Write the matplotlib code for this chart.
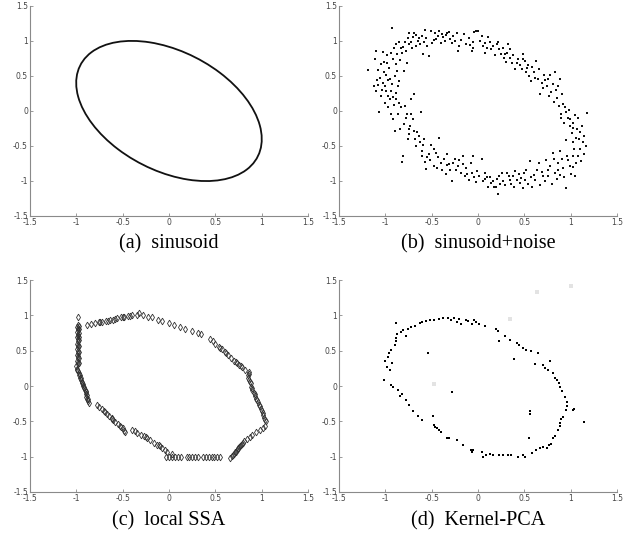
import matplotlib
matplotlib.use("Agg")
import matplotlib.pyplot as plt
from matplotlib.patches import Ellipse
import numpy as np

# 1. Data

# (a) clean sinusoid pair -> tilted ellipse
ELLIPSE_CENTER = (0.0, 0.0)
ELLIPSE_WIDTH = 2.37
ELLIPSE_HEIGHT = 1.55
ELLIPSE_ANGLE = -45

# (b) sinusoid + noise (x, y)
NOISY_POINTS = [
    (-1.19, 0.59), (-1.10, 0.85), (-1.11, 0.74), (-1.03, 0.84), (-0.93, 1.18), (-0.94, 0.83),
    (-0.89, 0.96), (-0.85, 0.98), (-0.83, 0.90), (-0.82, 0.83), (-0.79, 0.98), (-0.76, 1.04),
    (-0.74, 1.11), (-0.72, 0.99), (-0.70, 1.05), (-0.69, 1.12), (-0.67, 0.93), (-0.65, 1.00),
    (-0.61, 1.07), (-0.57, 1.15), (-0.56, 1.04), (-0.53, 0.79), (-0.51, 1.14), (-0.47, 1.02),
    (-0.43, 1.07), (-0.42, 1.14), (-0.38, 1.05), (-0.36, 1.00), (-0.33, 1.11), (-0.31, 1.13),
    (-0.30, 1.03), (-0.27, 1.07), (-0.23, 1.11), (-0.22, 0.86), (-0.20, 0.93), (-0.15, 1.10),
    (-0.13, 0.95), (-0.07, 0.86), (-0.05, 0.99), (-0.04, 1.13), (-0.02, 1.14), (-0.05, 0.90),
    (0.02, 1.00), (0.05, 0.93), (0.07, 0.83), (0.11, 1.05), (0.13, 0.99), (0.16, 0.93),
    (0.18, 0.80), (0.20, 0.95), (0.23, 0.88), (0.25, 0.81), (0.28, 0.75), (0.31, 0.83),
    (0.32, 0.95), (0.34, 0.89), (0.37, 0.69), (0.40, 0.60), (0.43, 0.74), (0.45, 0.65),
    (0.49, 0.82), (0.51, 0.71), (0.52, 0.56), (0.55, 0.50), (0.57, 0.43), (0.60, 0.56),
    (0.63, 0.71), (0.65, 0.45), (0.67, 0.24), (0.71, 0.52), (0.74, 0.36), (0.78, 0.52),
    (0.79, 0.27), (0.81, 0.38), (0.83, 0.56), (0.85, 0.19), (0.87, 0.07), (0.89, -0.05),
    (0.91, 0.24), (0.93, -0.17), (0.95, -0.02), (0.97, -0.10), (0.99, -0.21), (1.01, -0.31),
    (1.03, -0.17), (1.05, -0.06), (1.07, -0.26), (1.09, -0.40), (1.12, -0.21), (1.14, -0.36),
    (1.18, -0.03), (1.16, -0.50), (1.14, -0.62), (1.10, -0.55), (1.06, -0.74), (1.05, -0.93),
    (1.02, -0.64), (0.99, -0.79), (0.96, -0.64), (0.95, -1.10), (0.92, -0.81), (0.88, -0.57),
    (0.86, -0.74), (0.83, -0.88), (0.81, -0.60), (0.78, -0.79), (0.76, -0.93), (0.72, -1.00),
    (0.69, -0.87), (0.66, -0.74), (0.62, -0.98), (0.60, -0.91), (0.56, -0.72), (0.54, -1.05),
    (0.51, -0.98), (0.48, -1.10), (0.45, -1.03), (0.42, -0.98), (0.40, -0.86), (0.36, -1.05),
    (0.34, -0.98), (0.31, -0.88), (0.27, -1.00), (0.23, -0.93), (0.22, -1.19), (0.19, -1.08),
    (0.16, -1.00), (0.13, -0.95), (0.11, -1.08), (0.08, -0.89), (0.05, -1.00), (0.04, -0.68),
    (0.01, -0.93), (-0.02, -1.02), (-0.05, -0.64), (-0.07, -0.88), (-0.10, -0.98), (-0.13, -0.81),
    (-0.16, -0.64), (-0.18, -0.88), (-0.22, -0.79), (-0.25, -0.68), (-0.28, -1.00), (-0.31, -0.76),
    (-0.35, -0.90), (-0.37, -0.68), (-0.40, -0.74), (-0.42, -0.38), (-0.45, -0.60), (-0.48, -0.79),
    (-0.51, -0.49), (-0.53, -0.62), (-0.56, -0.83), (-0.57, -0.73), (-0.58, -0.40), (-0.60, -0.57),
    (-0.62, -0.02), (-0.64, -0.36), (-0.67, -0.50), (-0.69, -0.29), (-0.70, -0.12), (-0.73, -0.21),
    (-0.76, -0.40), (-0.77, -0.05), (-0.79, 0.07), (-0.81, -0.64), (-0.82, -0.73), (-0.84, -0.26),
    (-0.86, -0.05), (-0.88, 0.17), (-0.90, -0.29), (-0.92, -0.12), (-0.94, -0.05), (-0.97, 0.21),
    (-0.99, 0.29), (-1.03, 0.40), (-1.06, 0.47), (-1.07, -0.02), (-1.10, 0.29), (-1.12, 0.35),
    (-1.08, 0.59), (-1.05, 0.67), (-0.99, 0.52), (-0.96, 0.62), (-0.92, 0.74), (-0.88, 0.67),
    (-0.85, 0.43), (-0.80, 0.57), (-0.77, 0.69), (-0.72, 0.17), (-0.69, 0.24), (-0.95, 0.17),
    (-0.90, 0.50), (-1.04, 0.30), (-1.00, 0.12), (-0.97, 0.05), (-0.93, 0.38), (-0.87, 0.82),
    (-0.84, 0.73), (-0.78, 0.86), (-0.71, 0.90), (-0.63, 0.96), (-0.55, 0.93), (-0.46, 1.11),
    (-0.40, 0.97), (-0.25, 1.00), (-0.10, 1.04), (0.08, 0.97), (0.14, 0.88), (0.27, 0.90),
    (0.38, 0.80), (0.47, 0.60), (0.58, 0.63), (0.69, 0.40), (0.76, 0.45), (0.84, 0.30),
    (0.92, 0.10), (0.98, 0.02), (1.02, -0.45), (1.08, -0.10), (1.11, -0.72), (1.00, -0.90),
    (0.93, -0.95), (0.85, -0.97), (0.80, -1.05), (0.67, -1.06), (0.58, -1.08), (0.50, -0.88),
    (0.38, -0.93), (0.29, -1.06), (0.20, -0.97), (0.10, -0.95), (-0.04, -0.95), (-0.14, -0.93),
    (-0.20, -0.70), (-0.33, -0.62), (-0.44, -0.82), (-0.52, -0.70), (-0.60, -0.65), (-0.66, -0.30),
    (-0.74, -0.33), (-0.80, -0.18), (-0.83, 0.05), (-0.89, 0.26), (-0.97, 0.44), (-1.01, 0.70),
    (-0.98, 0.80), (-0.91, 0.90), (-0.67, 1.08), (-0.59, 0.82), (-0.35, 1.09), (0.00, 1.14),
    (0.30, 0.70), (0.54, 0.66), (0.72, 0.44), (0.88, 0.45), (0.95, -0.42), (1.04, -0.55),
    (0.86, -0.85), (0.70, -0.93), (0.46, -0.96), (0.17, -1.08), (-0.08, -0.74), (-0.30, -0.84),
    (-1.09, 0.44), (-1.02, 0.56), (-0.98, 0.68), (-0.94, 0.28), (-0.91, 0.09), (-0.86, 0.35),
    (-0.81, 0.92), (-0.75, 0.95), (-0.64, 1.04), (-0.58, 0.99), (-0.50, 0.97), (-0.45, 1.03),
    (-0.39, 1.10), (-0.28, 0.97), (-0.18, 1.02), (-0.09, 0.94), (0.04, 1.07), (0.10, 0.90),
    (0.22, 0.98), (0.29, 0.82), (0.35, 0.75), (0.42, 0.68), (0.48, 0.74), (0.53, 0.61),
    (0.61, 0.47), (0.66, 0.60), (0.70, 0.33), (0.77, 0.22), (0.82, 0.13), (0.86, 0.35),
    (0.90, -0.10), (0.94, 0.05), (0.99, -0.12), (1.02, -0.24), (1.06, -0.38), (1.10, -0.30),
    (1.13, -0.45), (1.08, -0.65), (1.03, -0.80), (0.97, -0.70), (0.91, -0.68), (0.88, -0.92),
    (0.82, -0.68), (0.75, -0.84), (0.73, -0.70), (0.64, -0.84), (0.57, -0.95), (0.52, -0.84),
    (0.44, -0.90), (0.39, -1.08), (0.33, -0.93), (0.26, -0.88), (0.24, -1.04), (0.14, -1.03),
    (0.07, -0.97), (-0.01, -0.86), (-0.12, -0.90), (-0.16, -0.76), (-0.24, -0.85), (-0.27, -0.74),
    (-0.34, -0.77), (-0.39, -0.85), (-0.43, -0.66), (-0.47, -0.55), (-0.55, -0.66), (-0.59, -0.48),
    (-0.63, -0.44), (-0.68, -0.40), (-0.72, -0.05), (-0.75, -0.26), (-0.78, -0.10), (-0.85, 0.12),
    (-0.92, 0.20), (-1.05, 0.22), (-1.08, 0.37), (-1.00, 0.36), (-0.95, 0.45), (-0.87, 0.57),
]

# (c) local SSA reconstruction (x, y)
SSA_POINTS = [
    (-0.98, 0.97), (-0.98, 0.86), (-0.99, 0.84), (-0.98, 0.82), (-0.98, 0.79), (-0.99, 0.77),
    (-0.98, 0.74), (-0.98, 0.71), (-0.99, 0.69), (-0.98, 0.66), (-0.98, 0.63), (-0.99, 0.60),
    (-0.98, 0.58), (-0.98, 0.55), (-0.99, 0.52), (-0.98, 0.50), (-0.98, 0.47), (-0.99, 0.44),
    (-0.98, 0.42), (-0.98, 0.39), (-0.99, 0.36), (-0.98, 0.34), (-0.98, 0.31),
    (-0.97, 0.85), (-0.97, 0.80), (-0.97, 0.75), (-0.97, 0.70), (-0.97, 0.65), (-0.97, 0.56),
    (-0.97, 0.48), (-0.97, 0.40), (-0.97, 0.33),
    (-1.00, 0.28), (-0.99, 0.24), (-0.98, 0.21), (-0.97, 0.18), (-0.96, 0.15), (-0.96, 0.12),
    (-0.95, 0.09), (-0.94, 0.06), (-0.93, 0.03), (-0.93, 0.00), (-0.92, -0.03), (-0.91, -0.06),
    (-0.90, -0.09), (-0.89, -0.12), (-0.89, -0.15), (-0.88, -0.18), (-0.87, -0.21), (-0.86, -0.24),
    (-0.99, 0.22), (-0.97, 0.16), (-0.95, 0.11), (-0.94, 0.04), (-0.92, -0.01), (-0.90, -0.07),
    (-0.88, -0.13), (-0.87, -0.19),
    (-0.78, -0.27), (-0.75, -0.30), (-0.72, -0.33), (-0.70, -0.36), (-0.67, -0.40), (-0.65, -0.42),
    (-0.62, -0.45), (-0.60, -0.48), (-0.58, -0.51), (-0.55, -0.54), (-0.53, -0.57), (-0.50, -0.60),
    (-0.48, -0.63), (-0.47, -0.65), (-0.69, -0.37), (-0.61, -0.46), (-0.52, -0.58),
    (-0.40, -0.62), (-0.37, -0.64), (-0.34, -0.66), (-0.30, -0.69), (-0.27, -0.71), (-0.24, -0.74),
    (-0.20, -0.77), (-0.16, -0.80), (-0.13, -0.83), (-0.10, -0.85), (-0.07, -0.88), (-0.04, -0.91),
    (-0.02, -0.93), (0.03, -0.96), (-0.25, -0.72), (-0.11, -0.84),
    (-0.03, -1.00), (0.00, -1.00), (0.03, -1.00), (0.06, -1.00), (0.10, -1.00), (0.13, -1.00),
    (0.19, -1.00), (0.22, -1.00), (0.25, -1.00), (0.28, -1.00), (0.31, -1.00), (0.37, -1.00),
    (0.40, -1.00), (0.43, -1.00), (0.46, -1.00), (0.49, -1.00), (0.52, -1.00), (0.55, -1.00),
    (0.66, -1.02), (0.68, -0.99), (0.70, -0.96), (0.72, -0.94), (0.73, -0.91), (0.75, -0.88),
    (0.77, -0.85), (0.79, -0.82), (0.81, -0.78), (0.84, -0.75), (0.87, -0.72), (0.90, -0.69),
    (0.94, -0.65), (0.98, -0.62), (1.01, -0.59), (1.04, -0.56),
    (0.69, -0.97), (0.71, -0.93), (0.74, -0.89), (0.76, -0.86), (0.78, -0.83), (0.80, -0.80),
    (1.05, -0.50), (1.03, -0.45), (1.02, -0.41), (1.00, -0.36), (0.99, -0.32), (0.97, -0.27),
    (0.96, -0.23), (0.94, -0.18), (0.93, -0.14), (0.92, -0.10), (0.90, -0.05), (0.89, -0.01),
    (0.88, 0.04), (0.86, 0.08), (0.85, 0.12), (0.86, 0.17),
    (1.04, -0.48), (1.01, -0.38), (0.98, -0.29), (0.95, -0.20), (0.93, -0.12), (0.90, -0.03),
    (0.87, 0.06), (0.85, 0.15),
    (0.86, 0.20), (0.82, 0.23), (0.79, 0.27), (0.76, 0.30), (0.73, 0.33), (0.70, 0.36),
    (0.67, 0.40), (0.64, 0.44), (0.60, 0.48), (0.57, 0.52), (0.54, 0.55), (0.50, 0.60),
    (0.47, 0.64), (0.44, 0.67), (0.78, 0.28), (0.72, 0.34), (0.62, 0.46), (0.55, 0.54),
    (0.35, 0.73), (0.31, 0.75), (0.25, 0.78), (0.17, 0.81), (0.12, 0.84), (0.05, 0.87),
    (0.00, 0.89), (-0.07, 0.92), (-0.12, 0.94), (-0.18, 0.97), (-0.23, 0.98), (-0.28, 1.01),
    (-0.32, 1.03),
    (-0.35, 1.01), (-0.40, 1.00), (-0.44, 0.99), (-0.48, 0.98), (-0.52, 0.97), (-0.56, 0.96),
    (-0.60, 0.94), (-0.64, 0.93), (-0.68, 0.92), (-0.72, 0.91), (-0.76, 0.90), (-0.80, 0.89),
    (-0.84, 0.88), (-0.88, 0.86), (-0.42, 0.99), (-0.50, 0.97), (-0.58, 0.95), (-0.66, 0.92),
    (-0.74, 0.90),
]

# (d) Kernel-PCA reconstruction (x, y)
KPCA_POINTS = [
    (-1.01, 0.09), (-1.00, 0.35), (-0.98, 0.27), (-0.97, 0.41), (-0.96, 0.47), (-0.95, 0.22),
    (-0.94, 0.51), (-0.93, 0.33), (-0.94, 0.01), (-0.92, -0.02), (-0.90, 0.58), (-0.89, 0.63),
    (-0.88, 0.68), (-0.87, 0.73), (-0.86, -0.06), (-0.88, 0.89), (-0.84, -0.14), (-0.82, -0.11),
    (-0.83, 0.77), (-0.81, 0.79), (-0.78, -0.20), (-0.76, 0.81), (-0.74, -0.27), (-0.72, 0.83),
    (-0.70, -0.36), (-0.68, 0.85), (-0.65, -0.43), (-0.63, 0.89), (-0.61, -0.48), (-0.60, 0.91),
    (-0.56, 0.92), (-0.54, 0.47), (-0.52, 0.93), (-0.49, -0.43), (-0.48, 0.94), (-0.48, -0.55),
    (-0.46, -0.58), (-0.44, -0.60), (-0.42, -0.62), (-0.42, 0.95), (-0.40, -0.65), (-0.38, 0.96),
    (-0.34, -0.74), (-0.32, 0.96), (-0.31, -0.74), (-0.29, 0.94), (-0.28, -0.08), (-0.26, 0.96),
    (-0.23, -0.77), (-0.23, 0.91), (-0.20, 0.95), (-0.18, 0.88), (-0.16, -0.84), (-0.13, 0.94),
    (-0.11, 0.92), (-0.08, -0.90), (-0.07, 0.88), (-0.06, -0.93), (-0.05, -0.90), (-0.04, 0.94),
    (-0.02, 0.91), (0.01, 0.88), (0.04, -0.93), (0.05, -1.00), (0.07, 0.85), (0.09, -0.98),
    (0.13, -0.96), (0.16, -0.97), (0.19, 0.80), (0.22, 0.78), (0.23, -0.98), (0.23, 0.63),
    (0.27, -0.98), (0.29, 0.71), (0.32, -0.98), (0.34, 0.65), (0.36, -0.98), (0.39, 0.38),
    (0.42, 0.61), (0.43, -1.00), (0.44, 0.58), (0.48, 0.54), (0.49, -0.97), (0.51, -1.00),
    (0.52, 0.51), (0.55, -0.74), (0.56, -0.36), (0.56, -0.40), (0.57, 0.49), (0.58, -0.95),
    (0.62, 0.31), (0.63, -0.91), (0.65, 0.46), (0.67, -0.88), (0.70, 0.30), (0.70, -0.86),
    (0.72, 0.25), (0.74, -0.88), (0.75, 0.23), (0.77, -0.84), (0.78, 0.35), (0.79, -0.82),
    (0.81, 0.19), (0.81, -0.74), (0.83, 0.12), (0.83, -0.71), (0.85, 0.09), (0.86, -0.62),
    (0.87, 0.04), (0.88, -0.57), (0.88, -0.01), (0.89, -0.46), (0.91, -0.07), (0.92, -0.44),
    (0.94, -0.15), (0.95, -0.34), (0.96, -0.22), (0.96, -0.28), (1.03, -0.34), (1.04, -0.32),
    (1.14, -0.51), (0.88, -0.53), (-0.78, 0.71),
]

# faint grey specks in (d)
KPCA_GHOSTS = [(-0.47, 0.03), (0.34, 0.95), (0.64, 1.33), (1.00, 1.41)]

CAPTIONS = ["(a)  sinusoid", "(b)  sinusoid+noise", "(c)  local SSA", "(d)  Kernel-PCA"]
TICKS = [-1.5, -1, -0.5, 0, 0.5, 1, 1.5]
TICK_LABELS = ["-1.5", "-1", "-0.5", "0", "0.5", "1", "1.5"]


# 2. Figure layout
fig = plt.figure(figsize=(6.35, 5.39), dpi=100)
axes_boxes = [
    [0.0472, 0.5993, 0.4378, 0.3896],
    [0.5339, 0.5993, 0.4378, 0.3896],
    [0.0472, 0.0872, 0.4378, 0.3933],
    [0.5339, 0.0872, 0.4378, 0.3933],
]
axes = [fig.add_axes(box) for box in axes_boxes]

axis_grey = "#8a8a8a"
for ax, caption in zip(axes, CAPTIONS):
    ax.set_xlim(-1.5, 1.5)
    ax.set_ylim(-1.5, 1.5)
    ax.set_xticks(TICKS)
    ax.set_yticks(TICKS)
    ax.set_xticklabels(TICK_LABELS)
    ax.set_yticklabels(TICK_LABELS)
    ax.tick_params(direction="in", length=2.5, width=0.6, colors=axis_grey,
                   labelcolor="#444444", labelsize=5.5, pad=1.5)
    for side in ["top", "right"]:
        ax.spines[side].set_visible(False)
    for side in ["left", "bottom"]:
        ax.spines[side].set_color(axis_grey)
        ax.spines[side].set_linewidth(0.8)
    ax.text(0.5, -0.135, caption, transform=ax.transAxes, ha="center", va="center",
            fontsize=14.5, family="Liberation Serif")


# 3. Panels
ax_a, ax_b, ax_c, ax_d = axes

ax_a.add_patch(Ellipse(ELLIPSE_CENTER, ELLIPSE_WIDTH, ELLIPSE_HEIGHT, angle=ELLIPSE_ANGLE,
                       fill=False, edgecolor="#111111", linewidth=1.3))

noisy = np.array(NOISY_POINTS)
ax_b.scatter(noisy[:, 0], noisy[:, 1], s=2.4, color="#111111", marker="s", linewidths=0)

ssa = np.array(SSA_POINTS)
ax_c.plot(ssa[:, 0], ssa[:, 1], linestyle="none", marker="d", markersize=3.4,
          markerfacecolor="none", markeredgecolor="#333333", markeredgewidth=0.6)

ghosts = np.array(KPCA_GHOSTS)
ax_d.scatter(ghosts[:, 0], ghosts[:, 1], s=10, color="#e3e3e3", marker="s", linewidths=0)
kpca = np.array(KPCA_POINTS)
ax_d.scatter(kpca[:, 0], kpca[:, 1], s=3.5, color="#000000", marker="s", linewidths=0)

fig.savefig("out.png", dpi=100)
